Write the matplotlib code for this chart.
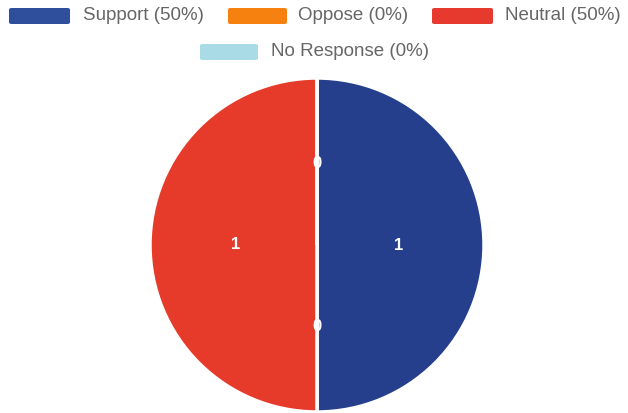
import matplotlib
matplotlib.use("Agg")
import matplotlib.pyplot as plt
from matplotlib.patches import FancyBboxPatch

categories = ["Support", "Oppose", "Neutral", "No Response"]
values = [1, 0, 1, 0]
percents = ["50%", "0%", "50%", "0%"]
colors = ["#263f8c", "#f7810f", "#e63a2a", "#a9dbe6"]
legend_colors = ["#2f4f9c", "#f7810f", "#e63a2e", "#a9dbe6"]

W, H = 628, 413
fig = plt.figure(figsize=(W / 100, H / 100), dpi=100)
fig.patch.set_facecolor("white")

# pie axes: centre (317,245), radius 167 px
cx, cy, r = 317, 245, 167
ax = fig.add_axes([(cx - r) / W, (H - cy - r) / H, 2 * r / W, 2 * r / H])
ax.pie(values, colors=colors, startangle=90, counterclock=False,
       labels=[str(v) for v in values], labeldistance=0.49,
       textprops=dict(color="white", fontsize=12, fontweight="bold",
                      ha="center", va="center", family="Liberation Sans"),
       wedgeprops=dict(edgecolor="white", linewidth=2.5))
ax.set_xlim(-1.0, 1.0)
ax.set_ylim(-1.0, 1.0)
ax.set_aspect("equal")
ax.axis("off")

# legend drawn manually
items = [
    (0, 9, 70, 83, 16),
    (1, 228, 287, 298, 16),
    (2, 432, 493, 505, 16),
    (3, 200, 258, 271, 52),
]
for idx, x0, x1, tx, y in items:
    box = FancyBboxPatch((x0 / W, (H - y - 8) / H), (x1 - x0) / W, 16 / H,
                         boxstyle="round,pad=0,rounding_size=0.004",
                         transform=fig.transFigure, facecolor=legend_colors[idx],
                         edgecolor="none")
    fig.patches.append(box)
    fig.text(tx / W, (H - y) / H, f"{categories[idx]} ({percents[idx]})",
             fontsize=13.5, color="#666666", ha="left", va="center",
             family="Liberation Sans")

fig.savefig("out.png", dpi=100, facecolor="white")
